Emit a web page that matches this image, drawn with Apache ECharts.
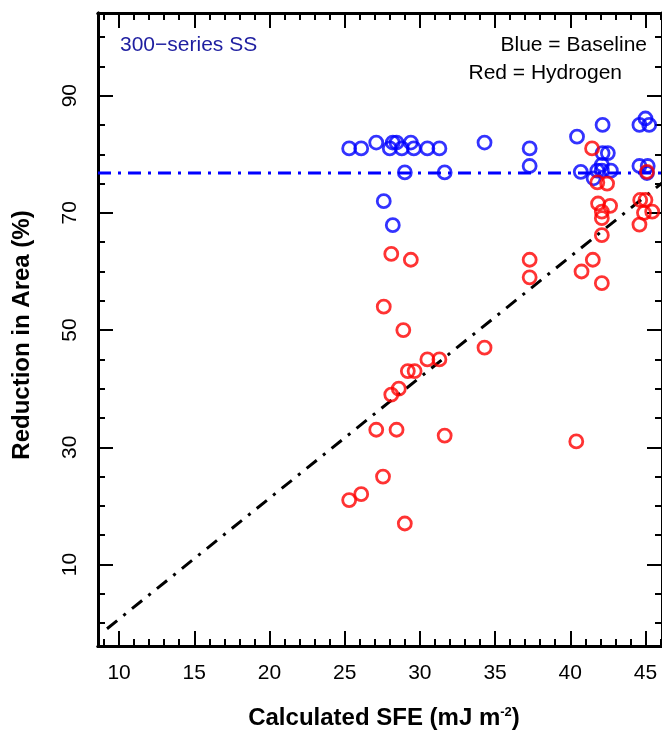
<!DOCTYPE html>
<html>
<head>
<meta charset="utf-8">
<script src="https://cdn.jsdelivr.net/npm/echarts@6/dist/echarts.min.js"></script>
<style>
    html, body { margin: 0; padding: 0; background: #ffffff; }
    #chart { width: 662px; height: 730px; }
</style>
</head>
<body>
<div id="chart"></div>
<script>
// Axes
const xRange = [8.6, 46.1];
const yRange = [-3.9, 104.1];
const xMajorTicks = [10, 15, 20, 25, 30, 35, 40, 45];
const xMinorTicks = [9, 10, 11, 12, 13, 14, 15, 16, 17, 18, 19, 20, 21, 22, 23, 24, 25, 26, 27, 28, 29, 30, 31, 32, 33, 34, 35, 36, 37, 38, 39, 40, 41, 42, 43, 44, 45, 46];
const yMajorTicks = [10, 30, 50, 70, 90];
const yMinorTicks = [0, 5, 10, 15, 20, 25, 30, 35, 40, 45, 50, 55, 60, 65, 70, 75, 80, 85, 90, 95, 100];

// Blue = Baseline (SFE, RA)
const baselinePoints = [
    [25.3, 81], [26.1, 81], [27.1, 82], [28.0, 81], [28.2, 82], [28.45, 82], [28.8, 81],
    [29.4, 82], [29.6, 81], [30.5, 81], [31.3, 81], [29.0, 76.9], [31.65, 76.9],
    [27.6, 72], [28.2, 67.9], [34.3, 82], [37.3, 81], [37.3, 78], [40.45, 83],
    [42.15, 85], [44.6, 85], [45.0, 86.1], [45.25, 85], [42.15, 80.2], [42.5, 80.2],
    [42.1, 78.2], [40.7, 77], [41.55, 75.9], [41.8, 77.2], [42.1, 77.2], [42.7, 77.2],
    [44.6, 78], [45.15, 78], [45.1, 76.8]
];

// Red = Hydrogen (SFE, RA)
const hydrogenPoints = [
    [28.1, 63], [29.4, 62], [27.6, 54], [28.9, 50], [30.5, 45], [31.3, 45], [29.2, 43],
    [29.65, 43], [28.6, 40], [28.1, 39], [27.1, 33], [28.45, 33], [31.65, 32], [27.55, 25],
    [25.3, 21], [26.1, 22], [29.0, 17], [34.3, 47], [37.3, 62], [37.3, 59], [40.4, 31],
    [40.75, 60], [41.5, 62], [42.1, 58], [41.45, 81], [41.8, 75.2], [42.45, 75],
    [41.85, 71.6], [42.65, 71.2], [42.1, 70.2], [42.1, 69.1], [42.1, 66.2], [44.65, 72.2],
    [45.0, 72.2], [44.9, 70], [45.45, 70.2], [44.6, 68], [45.1, 77]
];

// Mean baseline RA and the trend line
const baselineMean = 76.8;
const trendX = [9.2, 46.1];
const trendY = [-0.95, 75.1];

const FONT = "'Liberation Sans', Arial, sans-serif";

function xAxisDef(position, ticks, len, labels)
{
    return {
        type: "value",
        position,
        min: xRange[0],
        max: xRange[1],
        axisLine: { show: true, onZero: false, lineStyle: { color: "#000", width: 3 } },
        axisTick: { show: true, inside: true, length: len, customValues: ticks, lineStyle: { color: "#000", width: 2 } },
        axisLabel: labels
            ? { show: true, customValues: ticks, color: "#000", fontSize: 21, fontFamily: FONT, margin: 17 }
            : { show: false },
        splitLine: { show: false }
    };
}

function yAxisDef(position, ticks, len, labels)
{
    return {
        type: "value",
        position,
        min: yRange[0],
        max: yRange[1],
        axisLine: { show: true, onZero: false, lineStyle: { color: "#000", width: 3 } },
        axisTick: { show: true, inside: true, length: len, customValues: ticks, lineStyle: { color: "#000", width: 2 } },
        axisLabel: labels
            ? { show: true, customValues: ticks, color: "#000", fontSize: 21, fontFamily: FONT, rotate: 90, margin: 17 }
            : { show: false },
        splitLine: { show: false }
    };
}

function circles(name, points, color)
{
    return {
        name,
        type: "scatter",
        data: points,
        symbol: "circle",
        symbolSize: 13,
        itemStyle: { color: "transparent", borderColor: color, borderWidth: 2.8 },
        z: 5
    };
}

const chart = echarts.init(document.getElementById("chart"));

chart.setOption({
    backgroundColor: "#ffffff",
    animation: false,
    grid: { left: 98, right: -2, top: 13, bottom: 84 },
    xAxis: [
        xAxisDef("bottom", xMajorTicks, 15, true),
        xAxisDef("bottom", xMinorTicks, 7, false),
        xAxisDef("top", xMajorTicks, 15, false),
        xAxisDef("top", xMinorTicks, 7, false)
    ],
    yAxis: [
        yAxisDef("left", yMajorTicks, 15, true),
        yAxisDef("left", yMinorTicks, 7, false),
        yAxisDef("right", yMajorTicks, 15, false),
        yAxisDef("right", yMinorTicks, 7, false)
    ],
    series: [
        {
            type: "line",
            data: [[xRange[0], baselineMean], [xRange[1], baselineMean]],
            symbol: "none",
            lineStyle: { color: "#0000ff", width: 3, type: [13, 7, 3, 7] },
            z: 3
        },
        {
            type: "line",
            data: trendX.map((x, i) => [x, trendY[i]]),
            symbol: "none",
            lineStyle: { color: "#000000", width: 3, type: [13, 8, 3, 8] },
            z: 3
        },
        circles("Baseline", baselinePoints, "#0000ff"),
        circles("Hydrogen", hydrogenPoints, "#ff0000")
    ],
    graphic: [
        {
            type: "text", left: 120, top: 35,
            style: { text: "300\u2212series SS", fill: "#1e1ea0", font: "21px " + FONT }
        },
        {
            type: "text", right: 15, top: 35,
            style: { text: "Blue = Baseline", fill: "#000", font: "21px " + FONT }
        },
        {
            type: "text", right: 40, top: 63,
            style: { text: "Red = Hydrogen", fill: "#000", font: "21px " + FONT }
        },
        {
            type: "text", x: 22, y: 335, rotation: Math.PI / 2,
            style: { text: "Reduction in Area (%)", fill: "#000", font: "bold 24px " + FONT, align: "center", verticalAlign: "middle" }
        },
        {
            type: "text", x: 384, y: 718,
            style: {
                text: "{t|Calculated SFE (mJ m}{s|-2}{t|)}",
                align: "center",
                verticalAlign: "middle",
                rich: {
                    t: { fontSize: 24, fontWeight: "bold", fontFamily: FONT, fill: "#000" },
                    s: { fontSize: 13, fontWeight: "bold", fontFamily: FONT, fill: "#000", padding: [0, 0, 12, 0] }
                }
            }
        }
    ]
});
</script>
</body>
</html>
